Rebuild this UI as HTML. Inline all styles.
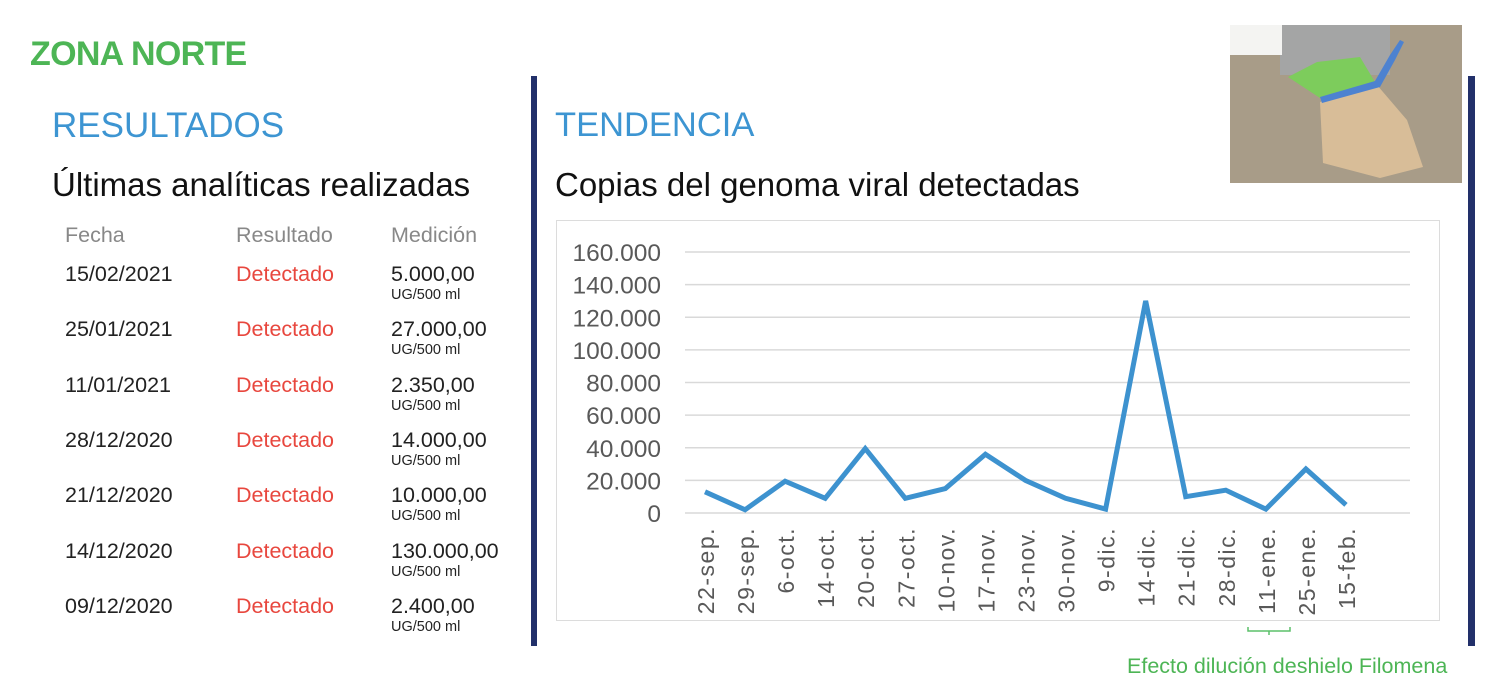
<!DOCTYPE html>
<html><head><meta charset="utf-8"><style>
body{margin:0;width:1500px;height:682px;background:#fff;position:relative;overflow:hidden;font-family:"Liberation Sans",sans-serif}
.a{position:absolute;white-space:nowrap}
.d{font-size:21.5px;color:#222}
.r{font-size:21.5px;color:#e8473e}
.m{font-size:21.5px;color:#222}
.u{font-size:14.5px;color:#222}
</style></head><body>
<div class="a" style="left:30px;top:35px;font-size:34px;font-weight:bold;color:#4db555;letter-spacing:-0.7px">ZONA NORTE</div>
<div class="a" style="left:52px;top:106px;font-size:35px;color:#3d95d2">RESULTADOS</div>
<div class="a" style="left:52px;top:166px;font-size:33px;color:#111">Últimas analíticas realizadas</div>
<div class="a" style="left:65px;top:223px;font-size:21.5px;color:#888">Fecha</div>
<div class="a" style="left:236px;top:223px;font-size:21.5px;color:#888">Resultado</div>
<div class="a" style="left:391px;top:223px;font-size:21.5px;color:#888">Medición</div>
<div id="rows"></div>
<div class="a" style="left:531px;top:76px;width:6px;height:570px;background:#22306a"></div>
<div class="a" style="left:1468px;top:76px;width:7px;height:570px;background:#22306a"></div>
<div class="a" style="left:555px;top:106px;font-size:34.5px;color:#3d95d2">TENDENCIA</div>
<div class="a" style="left:555px;top:166px;font-size:33px;color:#111">Copias del genoma viral detectadas</div>
<svg class="a" style="left:1230px;top:25px" width="232" height="158">
<rect width="232" height="158" fill="#a89c88"/>
<rect x="50" width="110" height="50" fill="#a4a5a5"/>
<rect x="0" y="0" width="52" height="30" fill="#f4f4f2"/>
<polygon points="90,77 147,60 177,95 193,142 150,153 93,138" fill="#d8bd98"/>
<polygon points="58,52 87,37 130,32 145,57 90,73" fill="#7dcc5c"/>
<polygon points="90,72 145,56 160,30 170,15 174,17 165,35 150,62 92,78" fill="#4d82d0"/>
</svg>
<svg class="a" id="chart" style="left:0;top:0" width="1500" height="682"></svg>
<script>
const categories=["22-sep.","29-sep.","6-oct.","14-oct.","20-oct.","27-oct.","10-nov.","17-nov.","23-nov.","30-nov.","9-dic.","14-dic.","21-dic.","28-dic.","11-ene.","25-ene.","15-feb."];
const values=[13000,2000,19500,9000,39500,9000,15000,36000,20000,9000,2400,130000,10000,14000,2350,27000,5000];
const yTicks=[0,20000,40000,60000,80000,100000,120000,140000,160000];
const yTickLabels=["0","20.000","40.000","60.000","80.000","100.000","120.000","140.000","160.000"];
const dates=["15/02/2021","25/01/2021","11/01/2021","28/12/2020","21/12/2020","14/12/2020","09/12/2020"];
const meds=["5.000,00","27.000,00","2.350,00","14.000,00","10.000,00","130.000,00","2.400,00"];
const NS="http://www.w3.org/2000/svg";
const svg=document.getElementById('chart');
function y(v){return 513-v*(261/160000);}
function x(i){return 705+i*40.06;}
function mk(t,a,p){const e=document.createElementNS(NS,t);for(const k in a)e.setAttribute(k,a[k]);(p||svg).appendChild(e);return e;}
const frame=mk('rect',{x:556.5,y:220.5,width:883,height:400,fill:'none',stroke:'#dcdcdc'});


yTicks.forEach((t,i)=>{
 const g=mk('line',{x1:685,x2:1410,y1:y(t),y2:y(t),stroke:'#d9d9d9','stroke-width':1.5});
 
 
 const l=mk('text',{x:661,y:y(t)+9,'text-anchor':'end','font-size':24.5,fill:'#595959'});
 l.textContent=yTickLabels[i];
 
 
});
categories.forEach((c,i)=>{
 const t=mk('text',{transform:`translate(${x(i)+9},527) rotate(-90)`,'text-anchor':'end','font-size':23,'letter-spacing':1.5,fill:'#595959'});
 t.textContent=c;
 
 
});
const pl=mk('polyline',{points:values.map((v,i)=>x(i)+','+y(v)).join(' '),fill:'none',stroke:'#3d92cf','stroke-width':5,'stroke-linejoin':'miter'});


const br=mk('path',{d:'M1248,627 v4 h42 v-4 M1269,631 v4',fill:'none',stroke:'#5cc06a','stroke-width':1.5});


const an=mk('text',{x:1127,y:673,'font-size':21.5,fill:'#4db555'});
an.textContent='Efecto dilución deshielo Filomena';


const rows=document.getElementById('rows');
dates.forEach((d,i)=>{
 const top=262+i*55.3;
 const r=document.createElement('div');
 
 
 r.innerHTML=`<div class="a d" style="left:65px;top:${top}px">${d}</div><div class="a r" style="left:236px;top:${top}px">Detectado</div><div class="a m" style="left:391px;top:${top}px">${meds[i]}</div><div class="a u" style="left:391px;top:${top+25}px">UG/500 ml</div>`;
 rows.appendChild(r);
});
</script>
</body></html>
